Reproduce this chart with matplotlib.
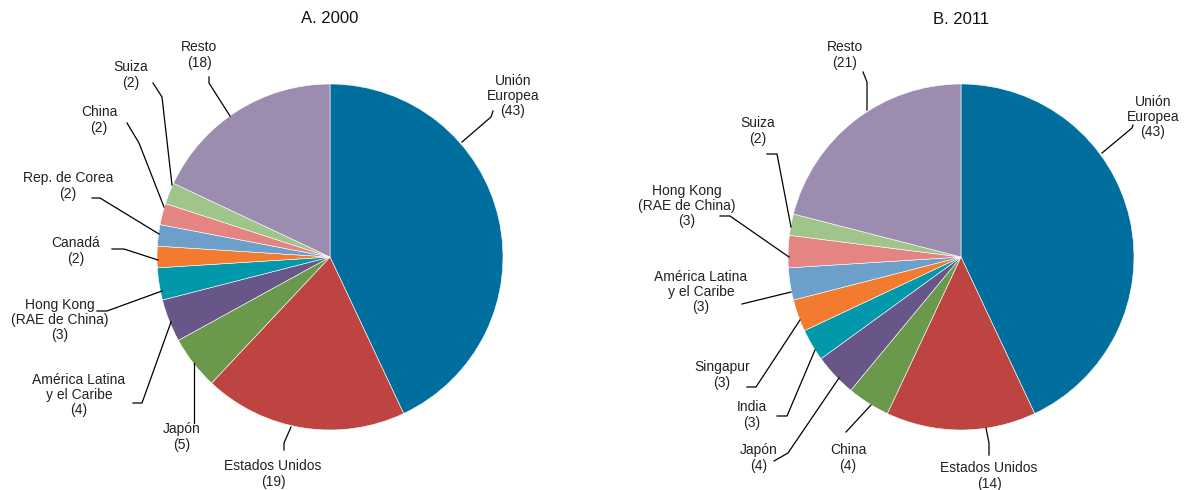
import matplotlib
matplotlib.use("Agg")
import matplotlib.pyplot as plt

plt.rcParams["font.family"] = ["Liberation Sans", "DejaVu Sans"]

# =========================
# 数据
# =========================
names_2000 = ["Unión\nEuropea", "Estados Unidos", "Japón", "América Latina\ny el Caribe",
              "Hong Kong\n(RAE de China)", "Canadá", "Rep. de Corea", "China", "Suiza", "Resto"]
values_2000 = [43, 19, 5, 4, 3, 2, 2, 2, 2, 18]

names_2011 = ["Unión\nEuropea", "Estados Unidos", "China", "Japón", "India", "Singapur",
              "América Latina\ny el Caribe", "Hong Kong\n(RAE de China)", "Suiza", "Resto"]
values_2011 = [43, 14, 4, 4, 3, 3, 3, 3, 2, 21]

titles = ["A. 2000", "B. 2011"]

colors = ["#006f9e", "#be4442", "#6b994b", "#695689", "#0098aa",
          "#f37b30", "#6c9fc9", "#e48583", "#9fc58a", "#9c8db0"]

# =========================
# 布局（像素坐标）
# =========================
W, H = 1184, 490
R = 173

# 每个标签：文字中心，引线折点（从文字一侧到饼图边缘）
layout_2000 = [
    ((513, 96), [(493, 111), (491, 117), (462, 142)]),
    ((273, 474), [(284, 450), (284, 443), (291, 427)]),
    ((182, 437), [(194, 423), (194, 363)]),
    ((79, 395), [(133, 403), (142, 403), (171, 322)]),
    ((60, 320), [(97, 311), (107, 311), (162, 291)]),
    ((76, 251), [(112, 249), (124, 249), (158, 260)]),
    ((68, 186), [(92, 198), (100, 198), (159, 234)]),
    ((99, 120), [(127, 123), (139, 143), (164, 207)]),
    ((131, 75), [(153, 83), (162, 97), (172, 185)]),
    ((199, 55), [(209, 77), (209, 83), (230, 116)]),
]

layout_2011 = [
    ((1153, 117), [(1133, 125), (1132, 128), (1102, 153)]),
    ((989, 476), [(989, 455), (989, 443), (986, 428)]),
    ((848, 458), [(846, 432), (871, 405)]),
    ((759, 458), [(774, 461), (788, 453), (839, 378)]),
    ((752, 415), [(777, 416), (787, 416), (815, 350)]),
    ((722, 375), [(747, 387), (756, 387), (800, 320)]),
    ((701, 292), [(742, 304), (791, 292)]),
    ((687, 206), [(720, 216), (730, 216), (789, 257)]),
    ((758, 131), [(767, 154), (777, 154), (791, 227)]),
    ((845, 55), [(863, 72), (867, 82), (867, 110)]),
]

panels = [
    (names_2000, values_2000, layout_2000, (330, 257), (0, 600)),
    (names_2011, values_2011, layout_2011, (961, 257), (600, W)),
]

fig = plt.figure(figsize=(W / 100, H / 100), dpi=100)

for (names, values, layout, (cx, cy), (x0, x1)), title in zip(panels, titles):
    ax = fig.add_axes([x0 / W, 0, (x1 - x0) / W, 1])
    ax.set_xlim(x0 - cx, x1 - cx)
    ax.set_ylim(cy - H, cy)
    ax.set_aspect("equal")
    ax.axis("off")

    ax.pie(values, colors=colors, startangle=90, counterclock=False,
           radius=R, center=(0, 0), frame=False,
           wedgeprops=dict(edgecolor="white", linewidth=0.4))
    ax.set_xlim(x0 - cx, x1 - cx)
    ax.set_ylim(cy - H, cy)

    for name, v, ((tx, ty), pts) in zip(names, values, layout):
        ax.text(tx - cx, cy - ty, f"{name}\n({v})", ha="center", va="center",
                multialignment="center", fontsize=10, linespacing=1.1,
                color="#222222")
        xs = [p[0] - cx for p in pts]
        ys = [cy - p[1] for p in pts]
        ax.plot(xs, ys, color="black", linewidth=0.9)

    ax.text(0, cy - 19, title, ha="center", va="center", fontsize=12, color="#111111")

fig.savefig("out.png", dpi=100)
